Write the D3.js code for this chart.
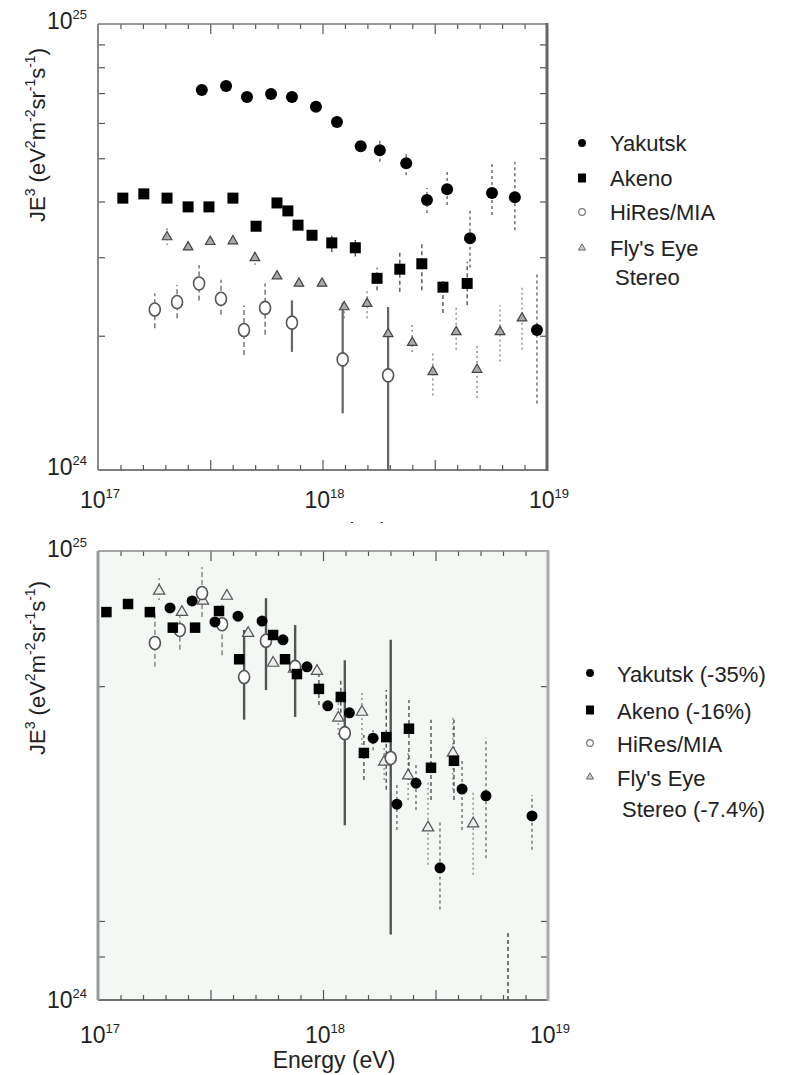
<!DOCTYPE html>
<html><head><meta charset="utf-8">
<script src="https://cdn.jsdelivr.net/npm/d3@7"></script>
<style>
html,body{margin:0;padding:0;background:#fff;}
svg text{font-family:"Liberation Sans",Arial,Helvetica,sans-serif;fill:#222;}
</style></head>
<body><svg id="c" width="790" height="1075"></svg>
<script>
// ---------- DATA (energies in eV, JE^3 in units of 1e24 eV^2 m^-2 sr^-1 s^-1) ----------
// Top panel
const topYakE = [2.90e17,3.72e17,4.61e17,5.90e17,7.31e17,9.35e17,1.16e18,1.48e18,1.80e18,2.36e18,2.92e18,3.59e18,4.54e18,5.69e18,7.19e18,9.02e18];
const topYakJ = [7.11,7.26,6.86,6.97,6.86,6.52,6.03,5.32,5.21,4.87,4.03,4.26,3.31,4.18,4.09,2.06];
const topYakLo = [null,null,null,null,null,null,null,null,4.91,4.58,3.77,3.93,2.84,3.73,3.45,1.41];
const topYakHi = [null,null,null,null,null,null,null,null,5.55,5.14,4.29,4.71,3.83,4.91,4.91,2.77];

const topAkeE = [1.29e17,1.60e17,2.03e17,2.52e17,3.12e17,3.99e17,5.06e17,6.27e17,7.01e17,7.78e17,8.98e17,1.10e18,1.40e18,1.75e18,2.21e18,2.77e18,3.44e18,4.41e18];
const topAkeJ = [4.07,4.16,4.07,3.89,3.89,4.07,3.52,3.97,3.81,3.54,3.36,3.23,3.15,2.69,2.82,2.90,2.57,2.62];
const topAkeLo = [null,null,null,null,null,null,null,null,null,null,null,3.08,3.01,2.53,2.51,2.53,2.25,2.34];
const topAkeHi = [null,null,null,null,null,null,null,null,null,null,null,3.35,3.28,2.84,3.11,3.24,2.69,2.93];

const topHirE = [1.79e17,2.25e17,2.82e17,3.53e17,4.47e17,5.55e17,7.31e17,1.23e18,1.96e18];
const topHirJ = [2.29,2.38,2.62,2.42,2.06,2.31,2.14,1.77,1.63];
const topHirLo = [2.08,2.19,2.40,2.23,1.81,2.01,1.84,1.34,1.00];
const topHirHi = [2.49,2.60,2.88,2.67,2.34,2.62,2.40,2.37,2.32];
const topHirSolid = [0,0,0,0,0,0,1,1,1];

const topFlyE = [2.03e17,2.52e17,3.16e17,3.99e17,5.00e17,6.27e17,7.85e17,9.95e17,1.25e18,1.58e18,1.96e18,2.51e18,3.10e18,3.94e18,4.88e18,6.18e18,7.74e18];
const topFlyJ = [3.33,3.16,3.25,3.26,2.99,2.72,2.62,2.62,2.32,2.36,2.02,1.93,1.66,2.04,1.68,2.04,2.19];
const topFlyLo = [3.19,null,null,null,2.88,null,null,null,2.19,2.19,1.86,1.84,1.47,1.86,1.45,1.75,1.86];
const topFlyHi = [3.49,null,null,null,3.11,null,null,null,2.40,2.53,2.17,2.14,1.84,2.31,1.91,2.34,2.57];

// Bottom panel (rescaled)
const botYakE = [2.09e17,2.62e17,3.31e17,4.19e17,5.36e17,6.64e17,8.49e17,1.05e18,1.31e18,1.67e18,2.13e18,2.59e18,3.31e18,4.15e18,5.30e18,8.49e18];
const botYakJ = [7.47,7.74,6.95,7.16,6.98,6.34,5.52,4.52,4.36,3.83,2.73,3.04,1.97,2.95,2.85,2.57];
const botYakLo = [null,null,null,null,null,null,null,null,null,3.60,2.39,2.65,1.59,2.39,2.07,2.16];
const botYakHi = [null,null,null,null,null,null,null,null,null,3.99,3.01,3.39,2.52,3.43,3.84,2.86];

const botAkeE = [1.09e17,1.36e17,1.70e17,2.15e17,2.70e17,3.45e17,4.24e17,6.00e17,6.78e17,7.66e17,9.59e17,1.20e18,1.52e18,1.91e18,2.41e18,3.02e18,3.82e18];
const botAkeJ = [7.31,7.62,7.31,6.75,6.75,7.35,5.74,6.50,5.74,5.32,4.93,4.73,3.55,3.85,4.02,3.29,3.41];
const botAkeLo = [null,null,null,null,null,null,null,null,null,null,4.54,4.21,3.09,2.94,3.09,2.79,2.79];
const botAkeHi = [null,null,null,null,null,null,null,null,null,null,5.30,5.21,3.89,4.90,4.66,4.21,4.21];

const botHirE = [1.79e17,2.31e17,2.90e17,3.56e17,4.46e17,5.58e17,7.52e17,1.25e18,2.00e18];
const botHirJ = [6.24,6.67,8.06,6.87,5.24,6.31,5.52,3.93,3.46];
const botHirLo = [5.52,6.03,7.13,5.86,4.21,4.90,4.27,2.45,1.40];
const botHirHi = [7.28,7.40,9.21,7.59,6.67,7.85,6.84,5.71,6.34];
const botHirSolid = [0,0,0,0,1,1,1,1,1];

const botFlyE = [1.87e17,2.36e17,2.93e17,3.74e17,4.65e17,6.00e17,7.43e17,9.40e17,1.17e18,1.49e18,1.87e18,2.39e18,2.93e18,3.78e18,4.65e18];
const botFlyJ = [8.15,7.31,7.74,7.94,6.56,5.63,5.46,5.40,4.25,4.38,3.39,3.16,2.42,3.55,2.47];
const botFlyLo = [7.78,null,null,null,null,null,null,null,3.89,3.70,3.09,2.79,2.00,2.94,1.90];
const botFlyHi = [8.71,null,null,null,null,null,null,null,4.66,4.90,3.70,3.60,3.09,4.31,2.94];

const botOffE = [6.64e18];
const botOffLo = [1.00];
const botOffHi = [1.42];

// Axis ticks
const xMinorTicks = [1.259e17,1.585e17,1.995e17,2.512e17,3.981e17,5.012e17,6.310e17,7.943e17,1.259e18,1.585e18,1.995e18,2.512e18,3.981e18,5.012e18,6.310e18,7.943e18];
const xMajorTicks = [3.162e17,1e18,3.162e18];
const xLabelTicks = [1e17,1e18,1e19];
const xLabelExp = ["17","18","19"];
const topYTicks = [2,3,4,5,6,7,8,9];
const botYTicks = [1.25,1.5,5];
const yLabelTicks = [1,10];
const yLabelExp = ["24","25"];

const legTop = ["Yakutsk","Akeno","HiRes/MIA","Fly's Eye"];
const legTopExtra = "Stereo";
const legBot = ["Yakutsk (-35%)","Akeno (-16%)","HiRes/MIA","Fly's Eye"];
const legBotExtra = "Stereo (-7.4%)";

// ---------- DRAW ----------
const svg = d3.select("#c");

function drawPanel(cfg){
  const {x,y,bg,id} = cfg;
  const [x0,x1] = x.range(); const [yb,yt] = y.range();
  const g = svg.append("g");
  g.append("rect").attr("x",x0).attr("y",yt).attr("width",x1-x0).attr("height",yb-yt).attr("fill",bg);
  g.append("clipPath").attr("id",id).append("rect").attr("x",x0).attr("y",yt).attr("width",x1-x0).attr("height",yb-yt);
  const pg = g.append("g").attr("clip-path",`url(#${id})`);

  const axB = g.append("g").attr("transform",`translate(0,${yb})`);
  axB.call(d3.axisBottom(x).tickValues(xMinorTicks).tickSize(-5).tickFormat(""));
  const axB2 = g.append("g").attr("transform",`translate(0,${yb})`);
  axB2.call(d3.axisBottom(x).tickValues(xMajorTicks).tickSize(-10).tickFormat(""));
  const axT = g.append("g").attr("transform",`translate(0,${yt})`);
  axT.call(d3.axisTop(x).tickValues(xMinorTicks).tickSize(-5).tickFormat(""));
  const axT2 = g.append("g").attr("transform",`translate(0,${yt})`);
  axT2.call(d3.axisTop(x).tickValues(xMajorTicks).tickSize(-10).tickFormat(""));
  const axL = g.append("g").attr("transform",`translate(${x0},0)`);
  axL.call(d3.axisLeft(y).tickValues(cfg.yTicks).tickSize(-7).tickFormat(""));
  const axR = g.append("g").attr("transform",`translate(${x1},0)`);
  axR.call(d3.axisRight(y).tickValues(cfg.yTicks).tickSize(-7).tickFormat(""));
  [axB,axB2,axT,axT2,axL,axR].forEach(a=>{a.select(".domain").remove();a.selectAll("line").attr("stroke","#555").attr("stroke-width",1.2);});

  const fr = cfg.frame;
  g.append("line").attr("x1",x0).attr("x2",x1).attr("y1",yt).attr("y2",yt).attr("stroke",fr.top[0]).attr("stroke-width",fr.top[1]);
  g.append("line").attr("x1",x0).attr("x2",x1).attr("y1",yb).attr("y2",yb).attr("stroke",fr.bottom[0]).attr("stroke-width",fr.bottom[1]);
  g.append("line").attr("x1",x0).attr("x2",x0).attr("y1",yt).attr("y2",yb).attr("stroke",fr.left[0]).attr("stroke-width",fr.left[1]);
  g.append("line").attr("x1",x1).attr("x2",x1).attr("y1",yt-1).attr("y2",yb+1).attr("stroke",fr.right[0]).attr("stroke-width",fr.right[1]);

  xLabelTicks.forEach((v,i)=>{
    const t = g.append("text").attr("x",x(v)+2).attr("y",cfg.xLabBase).attr("text-anchor","middle").style("font-size","23px");
    t.append("tspan").text("10");
    t.append("tspan").attr("dy",-10).style("font-size","13px").text(xLabelExp[i]);
  });
  yLabelTicks.forEach((v,i)=>{
    const t = g.append("text").attr("x",x0-11).attr("y",y(v)+cfg.yLabOff[i]).attr("text-anchor","end").style("font-size","23px");
    t.append("tspan").text("10");
    t.append("tspan").attr("dy",-10).style("font-size","13px").text(yLabelExp[i]);
  });

  const yl = g.append("text").attr("transform",`translate(45,${cfg.yLabCenter}) rotate(-90)`).attr("text-anchor","middle").style("font-size","22px");
  const parts = [["JE",0],["3",1],[" (eV",0],["2",1],["m",0],["-2",1],["sr",0],["-1",1],["s",0],["-1",1],[")",0]];
  let up=false;
  parts.forEach(([s,sup])=>{
    const ts = yl.append("tspan").text(s);
    if(sup){ts.style("font-size","14px").attr("dy",up?0:-10);up=true;}
    else {ts.attr("dy",up?10:0);up=false;}
  });

  return {g,pg};
}

function errBars(pg,x,y,E,lo,hi,style,solid){
  E.forEach((e,i)=>{
    if(lo[i]==null) return;
    const s = (solid && solid[i]) ? style.solid : style.dash;
    pg.append("line").attr("x1",x(e)).attr("x2",x(e)).attr("y1",y(lo[i])).attr("y2",y(hi[i]))
      .attr("stroke",s.c).attr("stroke-width",s.w).attr("stroke-dasharray",s.d||null);
  });
}
function circles(pg,x,y,E,J,r){
  pg.selectAll(null).data(E.map((e,i)=>[e,J[i]])).enter().append("circle")
    .attr("cx",d=>x(d[0])).attr("cy",d=>y(d[1])).attr("r",r).attr("fill","#000");
}
function squares(pg,x,y,E,J,s){
  pg.selectAll(null).data(E.map((e,i)=>[e,J[i]])).enter().append("rect")
    .attr("x",d=>x(d[0])-s/2).attr("y",d=>y(d[1])-s/2).attr("width",s).attr("height",s).attr("fill","#000");
}
function opens(pg,x,y,E,J,rx,ry,fill){
  pg.selectAll(null).data(E.map((e,i)=>[e,J[i]])).enter().append("ellipse")
    .attr("cx",d=>x(d[0])).attr("cy",d=>y(d[1])).attr("rx",rx).attr("ry",ry)
    .attr("fill",fill).attr("stroke","#555").attr("stroke-width",1.6);
}
function tris(pg,x,y,E,J,size,fill,stroke){
  const sym = d3.symbol().type(d3.symbolTriangle).size(size);
  pg.selectAll(null).data(E.map((e,i)=>[e,J[i]])).enter().append("path")
    .attr("d",sym).attr("transform",d=>`translate(${x(d[0])},${y(d[1])})`)
    .attr("fill",fill).attr("stroke",stroke).attr("stroke-width",1.2);
}

// ----- Top panel -----
const tx = d3.scaleLog().domain([1e17,1e19]).range([98,547]);
const ty = d3.scaleLog().domain([1,10]).range([470,24]);
const T = drawPanel({x:tx,y:ty,bg:"#fff",id:"clipTop",yTicks:topYTicks,xLabBase:508,yLabOff:[5,5],yLabCenter:135,
  frame:{top:["#777",1.5],bottom:["#555",1.6],left:["#888",2],right:["#666",3]}});

const dashBlack = {dash:{c:"#444",w:1.3,d:"4,3"}};
const dotGrey = {dash:{c:"#999",w:1.6,d:"2,3"}};
const hirStyle = {dash:{c:"#777",w:1.5,d:"5,3"},solid:{c:"#666",w:2.2}};
errBars(T.pg,tx,ty,topFlyE,topFlyLo,topFlyHi,dotGrey);
errBars(T.pg,tx,ty,topAkeE,topAkeLo,topAkeHi,dashBlack);
errBars(T.pg,tx,ty,topYakE,topYakLo,topYakHi,{dash:{c:"#666",w:1.4,d:"3,3"}});
errBars(T.pg,tx,ty,topHirE,topHirLo,topHirHi,hirStyle,topHirSolid);
tris(T.pg,tx,ty,topFlyE,topFlyJ,40,"#aaa","#444");
opens(T.pg,tx,ty,topHirE,topHirJ,5.5,6.5,"#fff");
squares(T.pg,tx,ty,topAkeE,topAkeJ,11);
circles(T.pg,tx,ty,topYakE,topYakJ,6);

// hidden x-axis label of the top panel (only tops of tall glyphs peek out)
svg.append("text").attr("x",329).attr("y",538).attr("text-anchor","middle").style("font-size","22px").text("Energy (eV)");
svg.append("rect").attr("x",0).attr("y",523).attr("width",790).attr("height",552).attr("fill","#fff");

// top legend
const lt = svg.append("g");
const ltY = [143,178,212,248];
lt.append("circle").attr("cx",582).attr("cy",ltY[0]).attr("r",4).attr("fill","#000");
lt.append("rect").attr("x",578).attr("y",ltY[1]-4.5).attr("width",8).attr("height",9).attr("fill","#000");
lt.append("circle").attr("cx",582).attr("cy",ltY[2]).attr("r",3.3).attr("fill","#fff").attr("stroke","#777").attr("stroke-width",1.2);
lt.append("path").attr("d",d3.symbol().type(d3.symbolTriangle).size(22)).attr("transform",`translate(582,${ltY[3]})`).attr("fill","#ccc").attr("stroke","#666");
legTop.forEach((s,i)=>lt.append("text").attr("x",610).attr("y",ltY[i]+8).style("font-size","22px").text(s));
lt.append("text").attr("x",615).attr("y",285).style("font-size","22px").text(legTopExtra);

// ----- Bottom panel -----
const bx = d3.scaleLog().domain([1e17,1e19]).range([98,548]);
const by = d3.scaleLog().domain([1,10]).range([1000,551]);
const B = drawPanel({x:bx,y:by,bg:"#f4f8f4",id:"clipBot",yTicks:botYTicks,xLabBase:1043,yLabOff:[8,6],yLabCenter:668,
  frame:{top:["#888",1.5],bottom:["#444",1.6],left:["#999",3],right:["#aaa",3]}});

errBars(B.pg,bx,by,botFlyE,botFlyLo,botFlyHi,dotGrey);
errBars(B.pg,bx,by,botAkeE,botAkeLo,botAkeHi,dashBlack);
errBars(B.pg,bx,by,botYakE,botYakLo,botYakHi,{dash:{c:"#777",w:1.5,d:"3,3"}});
errBars(B.pg,bx,by,botOffE,botOffLo,botOffHi,{dash:{c:"#333",w:1.3,d:"4,3"}});
errBars(B.pg,bx,by,botHirE,botHirLo,botHirHi,{dash:{c:"#888",w:1.5,d:"5,3"},solid:{c:"#555",w:2.4}},botHirSolid);
tris(B.pg,bx,by,botFlyE,botFlyJ,55,"#eee","#555");
opens(B.pg,bx,by,botHirE,botHirJ,5.5,6.5,"#fff");
squares(B.pg,bx,by,botAkeE,botAkeJ,10.5);
circles(B.pg,bx,by,botYakE,botYakJ,5.5);

svg.append("text").attr("x",334).attr("y",1068).attr("text-anchor","middle").style("font-size","23px").text("Energy (eV)");

// bottom legend
const lb = svg.append("g");
const lbY = [673,710,743,777];
lb.append("circle").attr("cx",590).attr("cy",lbY[0]).attr("r",4).attr("fill","#000");
lb.append("rect").attr("x",586).attr("y",lbY[1]-4.5).attr("width",8).attr("height",9).attr("fill","#000");
lb.append("circle").attr("cx",590).attr("cy",lbY[2]).attr("r",3.3).attr("fill","#fff").attr("stroke","#777").attr("stroke-width",1.2);
lb.append("path").attr("d",d3.symbol().type(d3.symbolTriangle).size(22)).attr("transform",`translate(590,${lbY[3]})`).attr("fill","#ccc").attr("stroke","#666");
legBot.forEach((s,i)=>lb.append("text").attr("x",617).attr("y",lbY[i]+9).style("font-size","22px").text(s));
lb.append("text").attr("x",622).attr("y",817).style("font-size","22px").text(legBotExtra);
</script></body></html>
